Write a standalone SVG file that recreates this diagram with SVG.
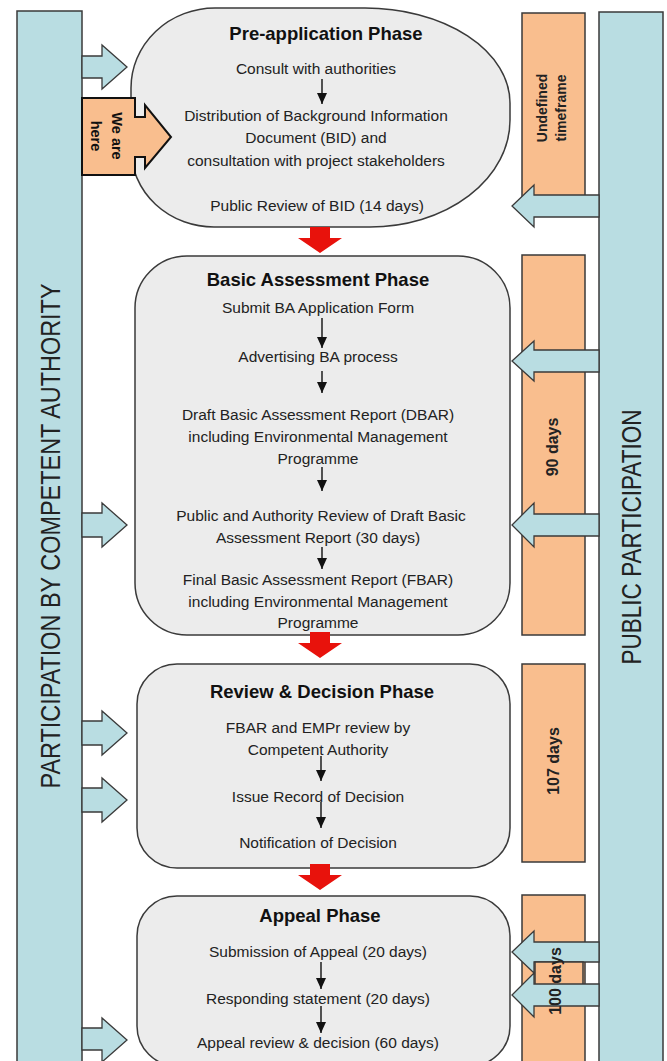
<svg xmlns="http://www.w3.org/2000/svg" width="667" height="1061" viewBox="0 0 667 1061">
<defs>
<style>
.bar{fill:#b9dde2;stroke:#3a3a3a;stroke-width:1.5}
.orange{fill:#f9be8e;stroke:#3a3a3a;stroke-width:1.5}
.box{fill:#ececec;stroke:#3a3a3a;stroke-width:1.5}
.blue{fill:#b9dde2;stroke:#3a3a3a;stroke-width:1.3}
.red{fill:#e8120c}
.t{font-family:"Liberation Sans",Arial,sans-serif;font-size:15.5px;fill:#222;text-anchor:middle}
.h{font-weight:bold;font-size:18.5px;fill:#111}
.v{font-family:"Liberation Sans",Arial,sans-serif;font-weight:bold;fill:#222;text-anchor:middle}
.side{font-family:"Liberation Sans",Arial,sans-serif;font-size:28px;fill:#222;text-anchor:middle}
.step{stroke:#111;stroke-width:1.4;fill:none;marker-end:url(#ah)}
</style>
<marker id="ah" markerUnits="userSpaceOnUse" markerWidth="11" markerHeight="10" refX="11" refY="5" orient="auto">
<path d="M0,0 L11,5 L0,10 Z" fill="#111"/>
</marker>
</defs>
<rect width="667" height="1061" fill="#ffffff"/>

<g id="competent-authority">
<rect class="bar" x="17" y="11" width="65" height="1060"/>
<text class="side" transform="translate(60,536) rotate(-90)" textLength="505" lengthAdjust="spacingAndGlyphs">PARTICIPATION BY COMPETENT AUTHORITY</text>
</g>

<g id="public-participation">
<rect class="bar" x="599" y="12" width="64" height="1060"/>
<text class="side" transform="translate(641,537) rotate(-90)" textLength="255" lengthAdjust="spacingAndGlyphs">PUBLIC PARTICIPATION</text>
</g>

<g id="timeframe-undefined">
<rect class="orange" x="522" y="13" width="63" height="187"/>
<text class="v" style="font-size:14px" transform="translate(547,108) rotate(-90)">Undefined</text>
<text class="v" style="font-size:14px" transform="translate(566,108) rotate(-90)">timeframe</text>
</g>
<g id="timeframe-90">
<rect class="orange" x="522" y="255" width="63" height="380"/>
<text class="v" style="font-size:16px" transform="translate(558,447) rotate(-90)">90 days</text>
</g>
<g id="timeframe-107">
<rect class="orange" x="522" y="664" width="63" height="198"/>
<text class="v" style="font-size:16px" transform="translate(559,761) rotate(-90)">107 days</text>
</g>
<g id="timeframe-100">
<rect class="orange" x="522" y="895" width="63" height="175"/>
</g>

<g id="pre-application">
<path class="box" d="M215,8 L365,8 A145,95 0 0 1 510,103 L510,120 A140,107 0 0 1 370,227 L215,227 A83,78 0 0 1 131,149 L131,88 A84,80 0 0 1 215,8 Z"/>
<text class="t h" x="326" y="40">Pre-application Phase</text>
<text class="t" x="316" y="74">Consult with authorities</text>
<text class="t" x="316" y="121">Distribution of Background Information</text>
<text class="t" x="316" y="143">Document (BID) and</text>
<text class="t" x="316" y="166">consultation with project stakeholders</text>
<text class="t" x="317" y="211">Public Review of BID (14 days)</text>
</g>

<g id="basic-assessment">
<rect class="box" x="135" y="256" width="375" height="379" rx="52" ry="52"/>
<text class="t h" x="318" y="286">Basic Assessment Phase</text>
<text class="t" x="318" y="313">Submit BA Application Form</text>
<text class="t" x="318" y="362">Advertising BA process</text>
<text class="t" x="318" y="420">Draft Basic Assessment Report (DBAR)</text>
<text class="t" x="318" y="442">including Environmental Management</text>
<text class="t" x="318" y="464">Programme</text>
<text class="t" x="321" y="521">Public and Authority Review of Draft Basic</text>
<text class="t" x="318" y="543">Assessment Report (30 days)</text>
<text class="t" x="318" y="585">Final Basic Assessment Report (FBAR)</text>
<text class="t" x="318" y="607">including Environmental Management</text>
<text class="t" x="318" y="628">Programme</text>
</g>

<g id="review-decision">
<rect class="box" x="137" y="664" width="373" height="204" rx="40" ry="40"/>
<text class="t h" x="322" y="698">Review &amp; Decision Phase</text>
<text class="t" x="318" y="733">FBAR and EMPr review by</text>
<text class="t" x="318" y="755">Competent Authority</text>
<text class="t" x="318" y="802">Issue Record of Decision</text>
<text class="t" x="318" y="848">Notification of Decision</text>
</g>

<g id="appeal">
<rect class="box" x="137" y="896" width="373" height="170" rx="40" ry="40"/>
<text class="t h" x="320" y="922">Appeal Phase</text>
<text class="t" x="318" y="957">Submission of Appeal (20 days)</text>
<text class="t" x="318" y="1004">Responding statement (20 days)</text>
<text class="t" x="318" y="1048">Appeal review &amp; decision (60 days)</text>
</g>

<g id="connectors">
<line class="step" x1="322" y1="79" x2="322" y2="104"/>
<line class="step" x1="322" y1="318" x2="322" y2="348"/>
<line class="step" x1="322" y1="371" x2="322" y2="393"/>
<line class="step" x1="322" y1="467" x2="322" y2="491"/>
<line class="step" x1="322" y1="547" x2="322" y2="569"/>
<line class="step" x1="321" y1="756" x2="321" y2="781"/>
<line class="step" x1="321" y1="802" x2="321" y2="828"/>
<line class="step" x1="321" y1="962" x2="321" y2="989"/>
<line class="step" x1="321" y1="1006" x2="321" y2="1033"/>
<path class="red" d="M310,227 H330 V238 H342 L320,253 L298,238 H310 Z"/>
<path class="red" d="M310,632 H330 V643 H342 L320,658 L298,643 H310 Z"/>
<path class="red" d="M310,864 H330 V875 H342 L320,890 L298,875 H310 Z"/>
<path class="blue" d="M82,56 H102 V45 L127,67 L102,89 V78 H82 Z"/>
<path class="blue" d="M82,513 H102 V503 L127,525 L102,547 V537 H82 Z"/>
<path class="blue" d="M82,721 H102 V711 L127,733 L102,755 V745 H82 Z"/>
<path class="blue" d="M82,788 H102 V778 L127,800 L102,822 V812 H82 Z"/>
<path class="blue" d="M82,1028 H102 V1018 L127,1040 L102,1062 V1050 H82 Z"/>
<path class="blue" d="M599,195 H534 V185 L512,206 L534,227 V217 H599 Z"/>
<path class="blue" d="M599,350 H534 V341 L512,361 L534,381 V372 H599 Z"/>
<path class="blue" d="M599,514 H534 V503 L512,525 L534,547 V536 H599 Z"/>
<path class="blue" d="M599,942 H534 V931 L512,952 L534,973 V962 H599 Z"/>
<rect class="orange" x="535" y="962" width="48" height="40"/>
<path class="blue" d="M599,984 H534 V973 L512,995 L534,1017 V1006 H599 Z"/>
</g>

<text class="v" style="font-size:16px" transform="translate(561,981) rotate(-90)">100 days</text>

<g id="we-are-here">
<path d="M82,98 H135 V117 H145 V105 L171,137 L145,168 V157 H135 V175 H82 Z" fill="#f9be8e" stroke="#111" stroke-width="2"/>
<text class="v" style="font-size:14.5px;fill:#111" transform="translate(112,136) rotate(90)">We are</text>
<text class="v" style="font-size:14.5px;fill:#111" transform="translate(91,136) rotate(90)">here</text>
</g>
</svg>
